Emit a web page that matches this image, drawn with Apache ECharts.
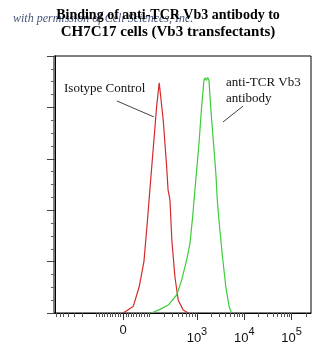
<!DOCTYPE html>
<html>
<head>
<meta charset="utf-8">
<script src="https://cdn.jsdelivr.net/npm/echarts@6/dist/echarts.min.js"></script>
<style>
  html, body { margin: 0; padding: 0; background: #fff; }
  #chart { width: 336px; height: 361px; }
</style>
</head>
<body>
<div id="chart"></div>
<script>
// Biexponential-style display position: linear around zero, log10 beyond +/-100.
var ZERO_POS = 1.44;
function toAxis(v) {
  if (v >= 100) return Math.log10(v);
  if (v <= -100) return 2 * ZERO_POS - Math.log10(-v);
  return ZERO_POS + (2 - ZERO_POS) * v / 100;
}

// Histogram traces: display position (x) and relative cell count (y, % of max scale)
var isotypePos   = [1.442, 1.653, 1.78, 1.88, 1.95, 2.006, 2.09, 2.148, 2.203, 2.288, 2.36, 2.39, 2.43, 2.47, 2.535, 2.605, 2.71, 2.816];
var isotypeCount = [0, 2.5, 10.2, 20, 35, 48, 67, 80.2, 89.6, 75, 57, 47.9, 44, 28.3, 14, 5, 1.2, 0];

var vb3Pos   = [2.042, 2.218, 2.393, 2.571, 2.677, 2.782, 2.852, 2.909, 2.958, 3.049, 3.099, 3.148, 3.175, 3.2, 3.226, 3.254, 3.29, 3.345, 3.40, 3.43, 3.47, 3.54, 3.61, 3.68, 3.73];
var vb3Count = [0, 1.4, 3.1, 7, 12.8, 20.6, 27, 37.3, 47.9, 67.3, 80.2, 90.6, 91.5, 90.5, 91.6, 90.6, 80.2, 67.3, 54.3, 44, 35, 21.9, 10.2, 2.5, 0];

// Axis decorations
var majorTickValues = [0, 1000, 10000, 100000];
var majorTickText   = ['0', '3', '4', '5'];
var minorTickValues = [
  -900, -800, -700, -600, -500, -400, -300, -200, -100,
  -90, -80, -70, -60, -50, -40, -30, -20, -10,
  10, 20, 30, 40, 50, 60, 70, 80, 90, 100,
  200, 300, 400, 500, 600, 700, 800, 900,
  2000, 3000, 4000, 5000, 6000, 7000, 8000, 9000,
  20000, 30000, 40000, 50000, 60000, 70000, 80000, 90000, 200000
];

var titleLines = ['Binding of anti-TCR Vb3 antibody to', 'CH7C17 cells (Vb3 transfectants)'];
var creditText = 'with permission of Cell Sciences, Inc.';
var isotypeLabel = 'Isotype Control';
var vb3Label = ['anti-TCR Vb3', 'antibody'];

function zip(xs, ys) { return xs.map(function (x, i) { return [x, ys[i]]; }); }

var majorPos = majorTickValues.map(toAxis);
var minorPos = minorTickValues.map(toAxis);
var X_MIN = -0.02, X_MAX = 5.41;

var chart = echarts.init(document.getElementById('chart'), null, { renderer: 'canvas' });

var serif = '"Liberation Serif", "Times New Roman", serif';
var sans = '"Liberation Sans", Arial, sans-serif';

chart.setOption({
  animation: false,
  backgroundColor: '#fff',
  title: [
    {
      text: creditText,
      left: 8, top: 8,
      textStyle: { fontFamily: serif, fontStyle: 'italic', fontWeight: 'normal', fontSize: 12, color: '#46557a' },
      z: 1
    },
    {
      text: titleLines[0], left: 'center', top: 6, padding: 2, z: 5,
      textStyle: { fontFamily: serif, fontWeight: 'bold', fontSize: 14, color: '#000' }
    },
    {
      text: titleLines[1], left: 'center', top: 23, padding: 2, z: 5,
      textStyle: { fontFamily: serif, fontWeight: 'bold', fontSize: 15, color: '#000' }
    }
  ],
  grid: {
    left: 54, right: 25, top: 56, bottom: 48,
    show: true, borderColor: '#000', borderWidth: 1, backgroundColor: 'transparent'
  },
  xAxis: [
    {
      type: 'value', min: X_MIN, max: X_MAX, position: 'bottom',
      axisLine: { show: true, onZero: false, lineStyle: { color: '#000', width: 1 } },
      axisTick: { show: true, customValues: minorPos, length: 4, lineStyle: { color: '#555' } },
      axisLabel: { show: false },
      splitLine: { show: false }
    },
    {
      type: 'value', min: X_MIN, max: X_MAX, position: 'bottom',
      axisLine: { show: false, onZero: false },
      axisTick: { show: true, customValues: majorPos, length: 7, lineStyle: { color: '#333' } },
      axisLabel: {
        show: true,
        customValues: majorPos,
        margin: 11,
        formatter: function (val) {
          var i = majorPos.findIndex(function (p) { return Math.abs(p - val) < 1e-6; });
          if (i === 0) return '{z|0}';
          return '{b|10}{s|' + majorTickText[i] + '}';
        },
        rich: {
          z: { fontFamily: sans, fontSize: 13, color: '#111', padding: [0, 0, 6, 0] },
          b: { fontFamily: sans, fontSize: 13, color: '#111', padding: [8, 0, 0, 0] },
          s: { fontFamily: sans, fontSize: 11, color: '#111', padding: [0, 0, 6, 0] }
        }
      },
      splitLine: { show: false }
    }
  ],
  yAxis: {
    type: 'value', min: 0, max: 100, interval: 20,
    axisLine: { show: true, lineStyle: { color: '#000', width: 1 } },
    axisTick: { show: true, length: 8, lineStyle: { color: '#444' } },
    minorTick: { show: true, splitNumber: 4, length: 4, lineStyle: { color: '#666' } },
    axisLabel: { show: false },
    splitLine: { show: false },
    minorSplitLine: { show: false }
  },
  graphic: [
    {
      type: 'text', left: 64, top: 82,
      style: { text: isotypeLabel, font: '13px ' + serif, fill: '#111' }
    },
    {
      type: 'text', left: 226, top: 75,
      style: { text: vb3Label.join('\n'), font: '13px ' + serif, fill: '#111', lineHeight: 16 }
    }
  ],
  series: [
    {
      name: isotypeLabel,
      type: 'line', xAxisIndex: 0,
      data: zip(isotypePos, isotypeCount),
      showSymbol: false, smooth: false,
      lineStyle: { color: '#d42a2a', width: 1.2 },
      markLine: {
        silent: true, symbol: 'none', animation: false,
        label: { show: false },
        lineStyle: { color: '#444', width: 1, type: 'solid' },
        data: [[{ coord: [1.309, 82.5] }, { coord: [2.091, 76.3] }]]
      },
      z: 3
    },
    {
      name: vb3Label.join(' '),
      type: 'line', xAxisIndex: 0,
      data: zip(vb3Pos, vb3Count),
      showSymbol: false, smooth: false,
      lineStyle: { color: '#3ccc3c', width: 1.2 },
      markLine: {
        silent: true, symbol: 'none', animation: false,
        label: { show: false },
        lineStyle: { color: '#444', width: 1, type: 'solid' },
        data: [[{ coord: [3.973, 80.5] }, { coord: [3.55, 74.3] }]]
      },
      z: 3
    }
  ]
});
</script>
</body>
</html>
